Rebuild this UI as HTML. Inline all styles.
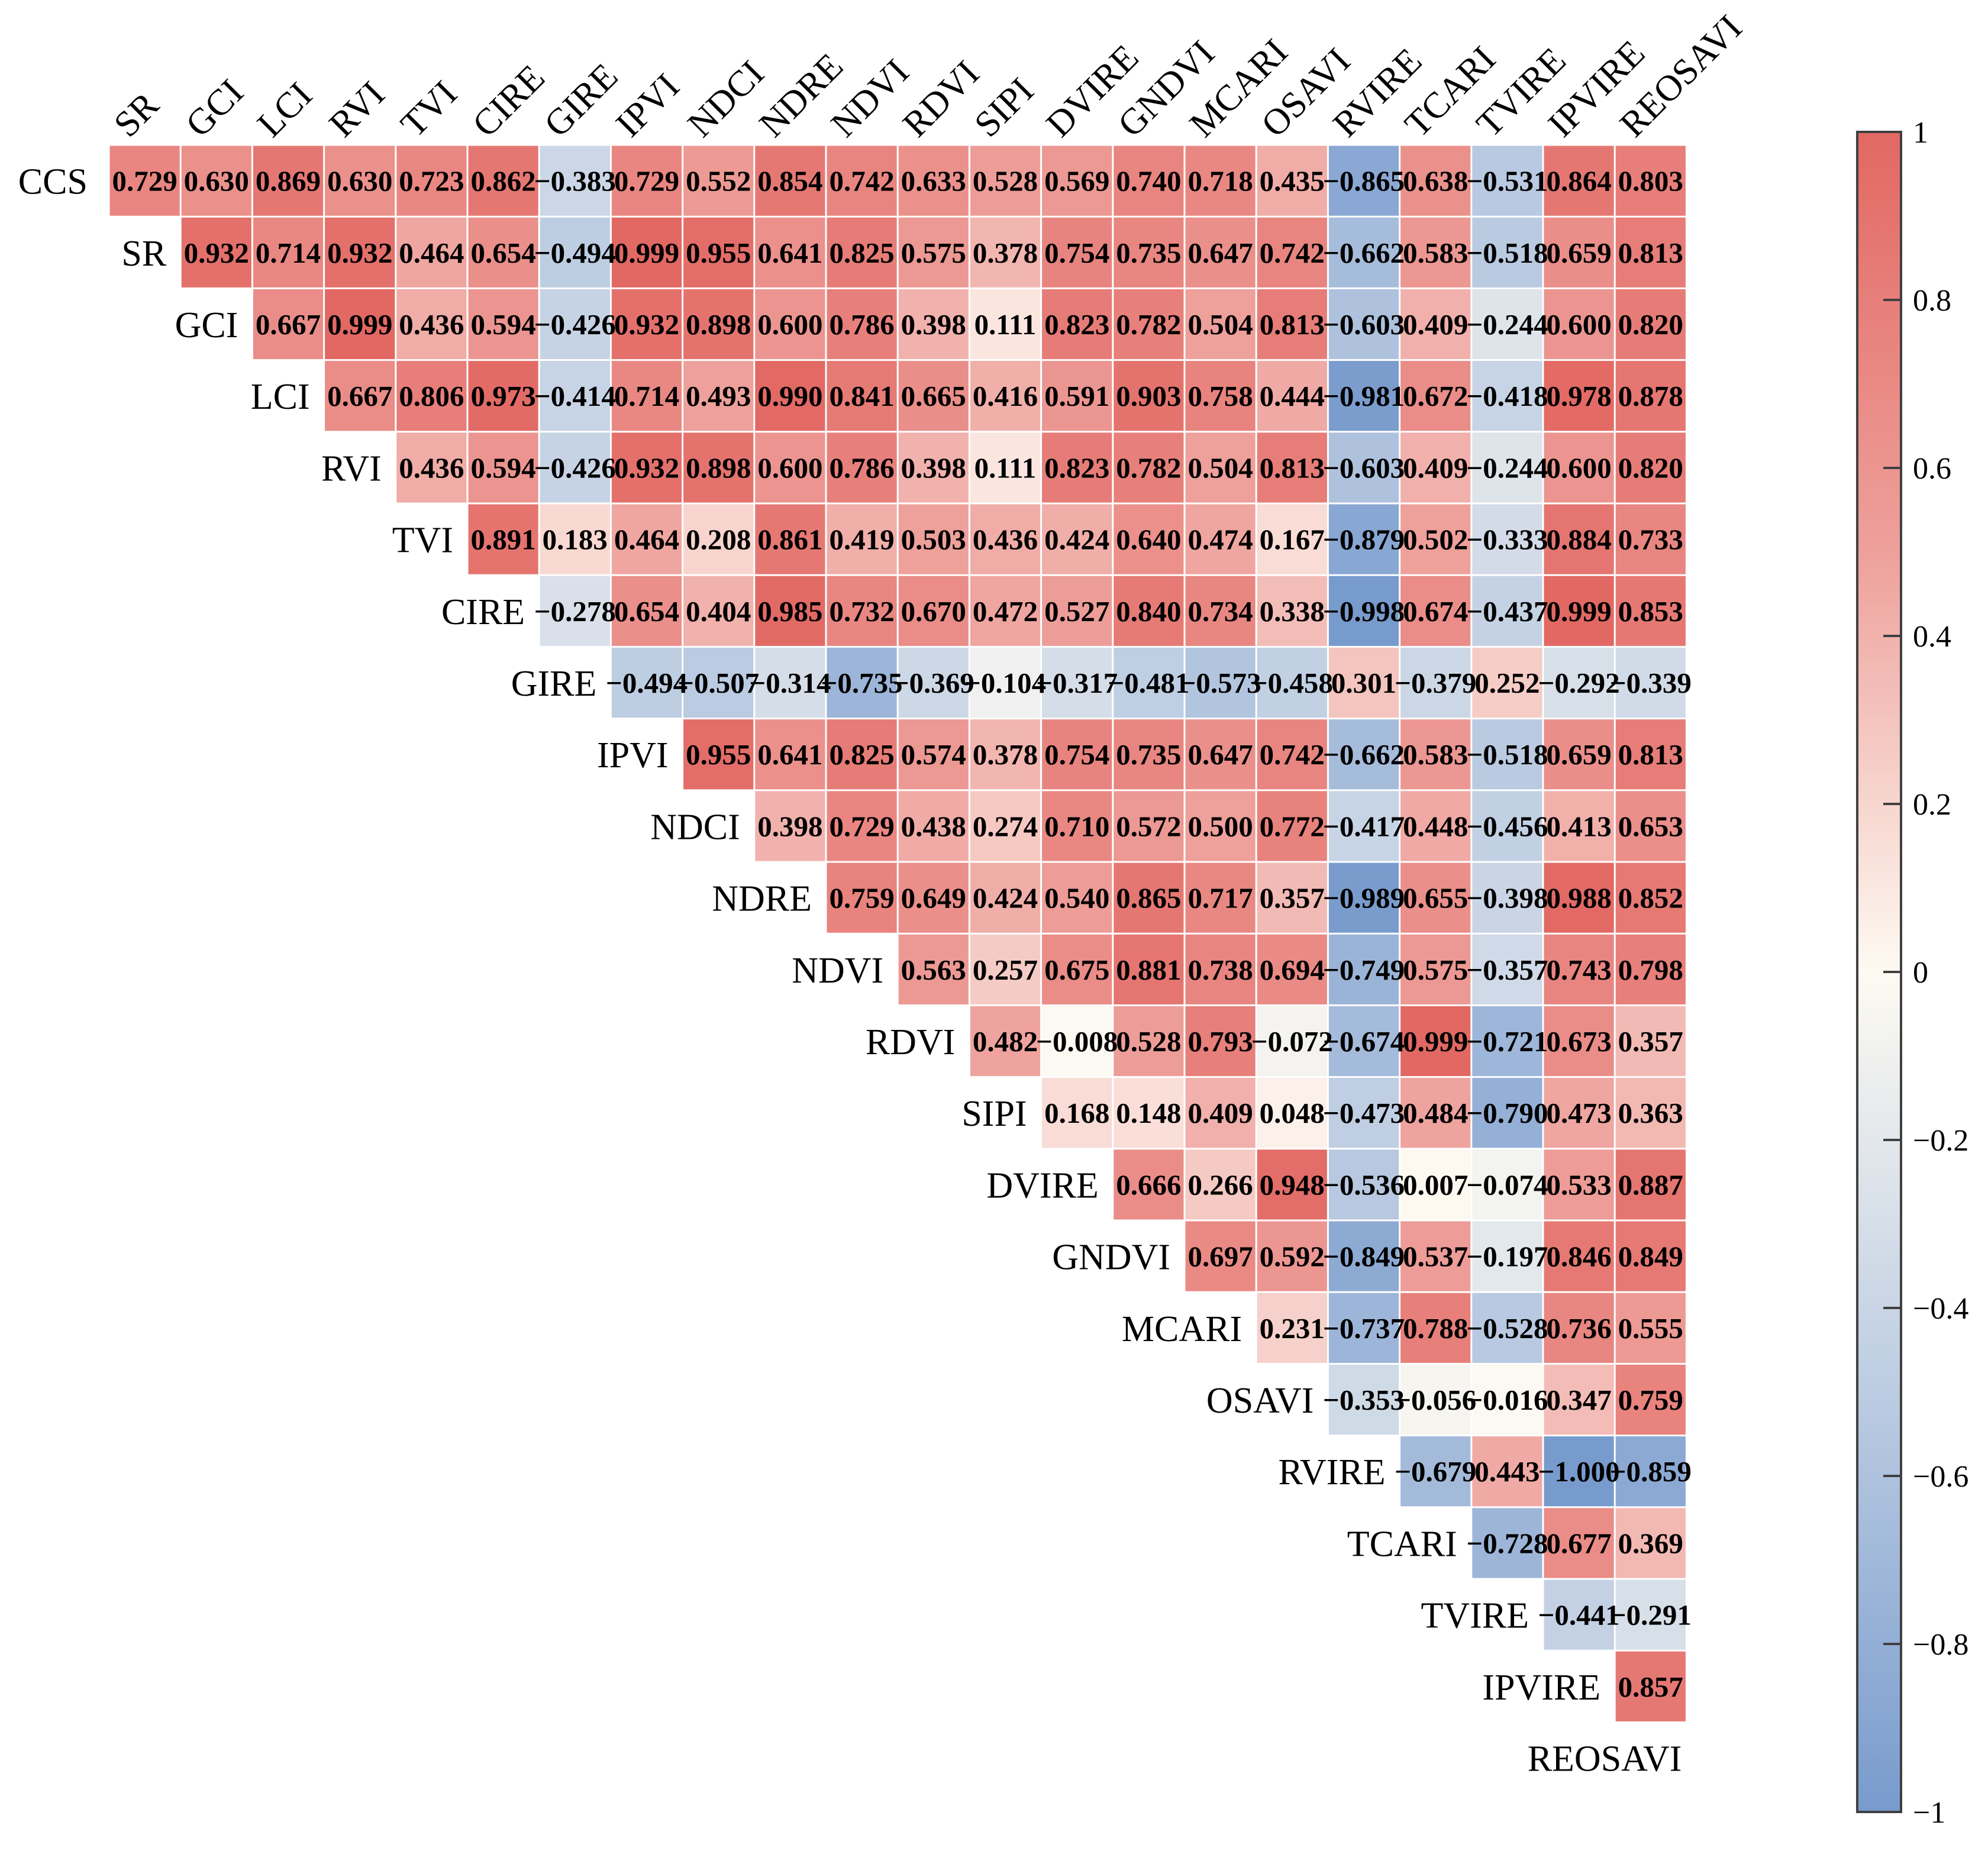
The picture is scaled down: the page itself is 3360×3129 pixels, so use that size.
<!DOCTYPE html>
<html><head><meta charset="utf-8"><style>
html,body{margin:0;padding:0;background:#fff;}
svg{display:block;}
text{font-family:"Liberation Serif","Times New Roman",serif;}
</style></head><body>
<svg id="chart" width="3360" height="3129" viewBox="0 0 3360 3129" xmlns="http://www.w3.org/2000/svg">
<defs>
<linearGradient id="cbgrad" x1="0" y1="0" x2="0" y2="1">
<stop offset="0" stop-color="rgb(226,104,99)"/>
<stop offset="0.25" stop-color="rgb(238,160,155)"/>
<stop offset="0.5" stop-color="rgb(253,250,242)"/>
<stop offset="0.75" stop-color="rgb(188,204,226)"/>
<stop offset="1" stop-color="rgb(120,155,205)"/>
</linearGradient>
</defs>
<g id="cells"></g>
<g id="values"></g>
<g id="labels"></g>
<g id="colorbar"></g>
</svg>
<script>
const rowLabels = ["CCS","SR","GCI","LCI","RVI","TVI","CIRE","GIRE","IPVI","NDCI","NDRE","NDVI","RDVI","SIPI","DVIRE","GNDVI","MCARI","OSAVI","RVIRE","TCARI","TVIRE","IPVIRE"];
const colLabels = ["SR","GCI","LCI","RVI","TVI","CIRE","GIRE","IPVI","NDCI","NDRE","NDVI","RDVI","SIPI","DVIRE","GNDVI","MCARI","OSAVI","RVIRE","TCARI","TVIRE","IPVIRE","REOSAVI"];
const rowCCS = [0.729,0.630,0.869,0.630,0.723,0.862,-0.383,0.729,0.552,0.854,0.742,0.633,0.528,0.569,0.740,0.718,0.435,-0.865,0.638,-0.531,0.864,0.803];
const rowSR = [0.932,0.714,0.932,0.464,0.654,-0.494,0.999,0.955,0.641,0.825,0.575,0.378,0.754,0.735,0.647,0.742,-0.662,0.583,-0.518,0.659,0.813];
const rowGCI = [0.667,0.999,0.436,0.594,-0.426,0.932,0.898,0.600,0.786,0.398,0.111,0.823,0.782,0.504,0.813,-0.603,0.409,-0.244,0.600,0.820];
const rowLCI = [0.667,0.806,0.973,-0.414,0.714,0.493,0.990,0.841,0.665,0.416,0.591,0.903,0.758,0.444,-0.981,0.672,-0.418,0.978,0.878];
const rowRVI = [0.436,0.594,-0.426,0.932,0.898,0.600,0.786,0.398,0.111,0.823,0.782,0.504,0.813,-0.603,0.409,-0.244,0.600,0.820];
const rowTVI = [0.891,0.183,0.464,0.208,0.861,0.419,0.503,0.436,0.424,0.640,0.474,0.167,-0.879,0.502,-0.333,0.884,0.733];
const rowCIRE = [-0.278,0.654,0.404,0.985,0.732,0.670,0.472,0.527,0.840,0.734,0.338,-0.998,0.674,-0.437,0.999,0.853];
const rowGIRE = [-0.494,-0.507,-0.314,-0.735,-0.369,-0.104,-0.317,-0.481,-0.573,-0.458,0.301,-0.379,0.252,-0.292,-0.339];
const rowIPVI = [0.955,0.641,0.825,0.574,0.378,0.754,0.735,0.647,0.742,-0.662,0.583,-0.518,0.659,0.813];
const rowNDCI = [0.398,0.729,0.438,0.274,0.710,0.572,0.500,0.772,-0.417,0.448,-0.456,0.413,0.653];
const rowNDRE = [0.759,0.649,0.424,0.540,0.865,0.717,0.357,-0.989,0.655,-0.398,0.988,0.852];
const rowNDVI = [0.563,0.257,0.675,0.881,0.738,0.694,-0.749,0.575,-0.357,0.743,0.798];
const rowRDVI = [0.482,-0.008,0.528,0.793,-0.072,-0.674,0.999,-0.721,0.673,0.357];
const rowSIPI = [0.168,0.148,0.409,0.048,-0.473,0.484,-0.790,0.473,0.363];
const rowDVIRE = [0.666,0.266,0.948,-0.536,0.007,-0.074,0.533,0.887];
const rowGNDVI = [0.697,0.592,-0.849,0.537,-0.197,0.846,0.849];
const rowMCARI = [0.231,-0.737,0.788,-0.528,0.736,0.555];
const rowOSAVI = [-0.353,-0.056,-0.016,0.347,0.759];
const rowRVIRE = [-0.679,0.443,-1.000,-0.859];
const rowTCARI = [-0.728,0.677,0.369];
const rowTVIRE = [-0.441,-0.291];
const rowIPVIRE = [0.857];
const rows = [rowCCS,rowSR,rowGCI,rowLCI,rowRVI,rowTVI,rowCIRE,rowGIRE,rowIPVI,rowNDCI,rowNDRE,rowNDVI,rowRDVI,rowSIPI,rowDVIRE,rowGNDVI,rowMCARI,rowOSAVI,rowRVIRE,rowTCARI,rowTVIRE,rowIPVIRE];
const cbTicks = [1,0.8,0.6,0.4,0.2,0,-0.2,-0.4,-0.6,-0.8,-1];

const NS = "http://www.w3.org/2000/svg";
const X0 = 184, Y0 = 245, P = 121.2, G = 3;
const xPos = c => X0 + c * P;
const yPos = r => Y0 + r * P;
const CB_TOP = 223, CB_BOT = 3063, CB_L = 3139, CB_R = 3213;
const cbY = v => CB_TOP + (1 - v) / 2 * (CB_BOT - CB_TOP);

const stops = [[1,[226,104,99]],[0.5,[238,160,155]],[0,[253,250,242]],[-0.5,[188,204,226]],[-1,[120,155,205]]];
function color(v){
  for(let i=0;i<stops.length-1;i++){
    const [a,ca]=stops[i],[b,cb]=stops[i+1];
    if(v<=a && v>=b){
      const t=(a-v)/(a-b);
      const c=ca.map((x,k)=>Math.round(x+(cb[k]-x)*t));
      return `rgb(${c[0]},${c[1]},${c[2]})`;
    }
  }
  return v>1?"rgb(226,104,99)":"rgb(120,155,205)";
}
function mk(tag, attrs, parent){
  const e=document.createElementNS(NS,tag);
  for(const k in attrs) e.setAttribute(k,attrs[k]);
  parent.appendChild(e); return e;
}
const fmt = v => (v<0?"\u2212":"") + Math.abs(v).toFixed(3);

const cellsG=document.getElementById('cells');
const valG=document.getElementById('values');
const labG=document.getElementById('labels');
rows.forEach((vals,r)=>{
  vals.forEach((v,k)=>{
    const c = r + k;
    const rect=mk('rect',{x:xPos(c)+G/2,y:yPos(r)+G/2,width:P-G,height:P-G,fill:color(v)},cellsG);
    
    
    const t=mk('text',{x:xPos(c)+P/2,y:yPos(r)+P/2+17,'text-anchor':'middle','font-size':49,'font-weight':'bold',fill:'#000'},valG);
    t.textContent=fmt(v);
    
    
  });
  const lab=mk('text',{x:xPos(r)-(r===0?36:24),y:yPos(r)+P/2+22,'text-anchor':'end','font-size':62,fill:'#000'},labG);
  lab.textContent=rowLabels[r];
  
  
});
colLabels.forEach((name,c)=>{
  const x=xPos(c)+34, y=Y0-10;
  const t=mk('text',{x:x,y:y,'font-size':62,fill:'#000',transform:`rotate(-45 ${x} ${y})`},labG);
  t.textContent=name;
  
  
});
const last=mk('text',{x:xPos(22)-8,y:yPos(22)+82,'text-anchor':'end','font-size':62,fill:'#000'},labG);
last.textContent="REOSAVI";



const cbG=document.getElementById('colorbar');
const bar=mk('rect',{x:CB_L,y:CB_TOP,width:CB_R-CB_L,height:CB_BOT-CB_TOP,fill:'url(#cbgrad)',stroke:'#404040','stroke-width':4},cbG);


cbTicks.forEach(v=>{
  const y=cbY(v);
  const tk=mk('line',{x1:CB_R-30,x2:CB_R,y1:y,y2:y,stroke:'#404040','stroke-width':4},cbG);
  
  
  const t=mk('text',{x:CB_R+20,y:y+18,'font-size':52,fill:'#000'},cbG);
  t.textContent=(v<0?"\u2212":"")+String(Math.abs(v));
  
  
});
</script>
</body></html>
